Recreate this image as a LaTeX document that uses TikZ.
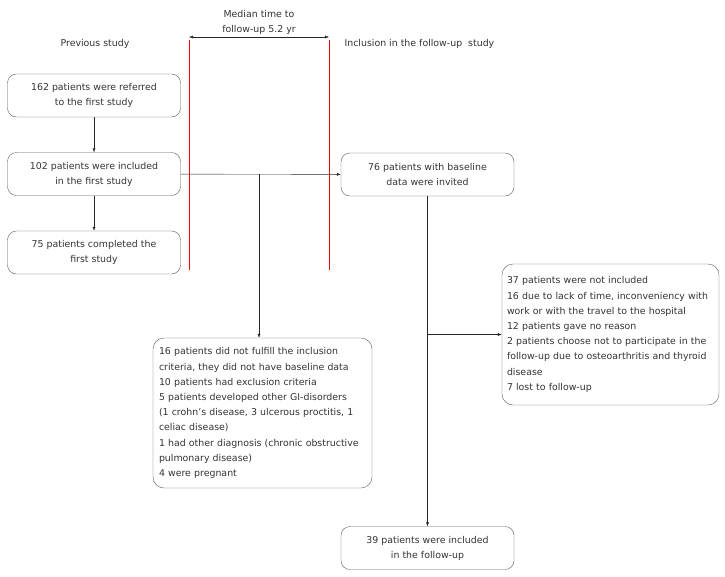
\documentclass[tikz,border=0pt]{standalone}
\usepackage{fontspec}
\setmainfont{DejaVu Sans}
\usetikzlibrary{arrows.meta}
\definecolor{txtgray}{RGB}{51,51,51}
\definecolor{boxgray}{RGB}{90,90,90}
\tikzset{
  kasten/.style={draw=boxgray,rounded corners=9pt,text=txtgray,align=center,
    minimum width=173pt,minimum height=43pt,inner sep=0pt,
    font=\fontsize{9.4}{15}\selectfont},
  liste/.style={draw=boxgray,rounded corners=11pt,text=txtgray,align=left,
    inner ysep=0pt,text width=207pt,
    font=\fontsize{9.4}{15.2}\selectfont},
  pfeil/.style={-{Latex[length=4pt,width=3pt]},black!85},
  titel/.style={text=txtgray,font=\fontsize{9.4}{15}\selectfont,align=center},
  zeitlinie/.style={draw=red,line width=0.8pt}
}
\begin{document}
\begin{tikzpicture}[x=1pt,y=-1pt]
		\useasboundingbox (0,0) rectangle (725,576);
		% Titel
		\node (prev) at (95,44) [titel] {Previous study};
		\node (median) at (259,22) [titel] {Median time to\\follow-up 5.2 yr};
		\node (incl) at (341,44) [titel,anchor=west] {Inclusion in the follow-up\ \ study};

		% Zeitachse
		\coordinate (redLo) at (189,40);
		\coordinate (redLu) at (189,270);
		\coordinate (redRo) at (329,40);
		\coordinate (redRu) at (329,270);
		\path[zeitlinie] (redLo) -- (redLu);
		\path[zeitlinie] (redRo) -- (redRu);
		\draw[{Latex[length=4pt,width=3pt]}-{Latex[length=4pt,width=3pt]},black!85] ([yshift=3pt]redLo) -- ([yshift=3pt]redRo);

		% Knoten
		\node (referred) at (94,95.5) [kasten] {162 patients were referred\\to the first study};
		\node (included) at (94,174) [kasten] {102 patients were included\\in the first study};
		\node (completed) at (94,252.5) [kasten] {75 patients completed the\\first study};
		\node (invited) at (427.5,174.5) [kasten] {76 patients with baseline\\data were invited};
		\node (excluded) at (262.5,413) [liste,inner xsep=6pt,minimum height=150pt]
			{16 patients did not fulfill the inclusion\\criteria, they did not have baseline data\\10 patients had exclusion criteria\\5 patients developed other GI-disorders\\(1 crohn's disease, 3 ulcerous proctitis, 1\\celiac disease)\\1 had other diagnosis (chronic obstructive\\pulmonary disease)\\4 were pregnant};
		\node (notincl) at (610.5,334.5) [liste,inner xsep=5pt,minimum height=141pt]
			{37 patients were not included\\16 due to lack of time, inconveniency with\\work or with the travel to the hospital\\12 patients gave no reason\\2 patients choose not to participate in the\\follow-up due to osteoarthritis and thyroid\\disease\\7 lost to follow-up};
		\node (followup) at (427.5,548) [kasten] {39 patients were included\\in the follow-up};
		\coordinate (split1) at (259,174);
		\coordinate (split2) at (427.5,334.5);

		% Kanten
		\draw[pfeil] (referred) -- (included);
		\draw[pfeil] (included) -- (completed);
		\draw[pfeil] (included) -- (invited);
		\draw[pfeil] (split1) -- (split1 |- excluded.north);
		\draw[pfeil] (invited) -- (followup);
		\draw[pfeil] (split2) -- (notincl);
	\end{tikzpicture}
\end{document}
